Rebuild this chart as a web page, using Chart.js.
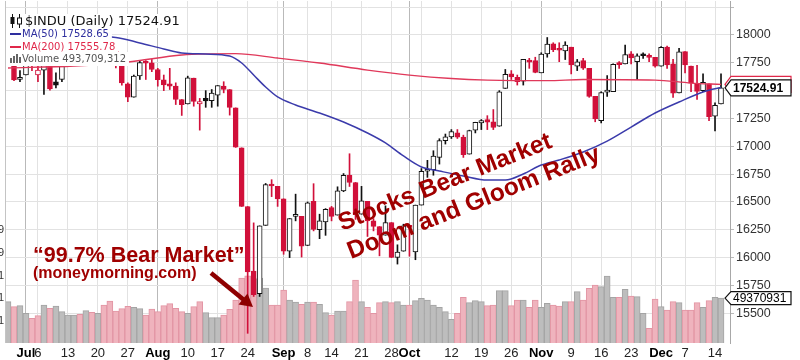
<!DOCTYPE html>
<html><head><meta charset="utf-8">
<script src="https://cdn.jsdelivr.net/npm/chart.js@4/dist/chart.umd.min.js"></script>
<style>html,body{margin:0;padding:0;background:#fff;}canvas{display:block;}</style>
</head><body>
<canvas id="c" width="800" height="360"></canvas>
<script>
// ---------- DATA ----------
const dates = [
'Jun 26','Jun 29','Jun 30','Jul 1','Jul 2','Jul 6','Jul 7','Jul 8','Jul 9','Jul 10',
'Jul 13','Jul 14','Jul 15','Jul 16','Jul 17','Jul 20','Jul 21','Jul 22','Jul 23','Jul 24',
'Jul 27','Jul 28','Jul 29','Jul 30','Jul 31','Aug 3','Aug 4','Aug 5','Aug 6','Aug 7',
'Aug 10','Aug 11','Aug 12','Aug 13','Aug 14','Aug 17','Aug 18','Aug 19','Aug 20','Aug 21',
'Aug 24','Aug 25','Aug 26','Aug 27','Aug 28','Aug 31','Sep 1','Sep 2','Sep 3','Sep 4',
'Sep 8','Sep 9','Sep 10','Sep 11','Sep 14','Sep 15','Sep 16','Sep 17','Sep 18','Sep 21',
'Sep 22','Sep 23','Sep 24','Sep 25','Sep 28','Sep 29','Sep 30','Oct 1','Oct 2','Oct 5',
'Oct 6','Oct 7','Oct 8','Oct 9','Oct 12','Oct 13','Oct 14','Oct 15','Oct 16','Oct 19',
'Oct 20','Oct 21','Oct 22','Oct 23','Oct 26','Oct 27','Oct 28','Oct 29','Oct 30','Nov 2',
'Nov 3','Nov 4','Nov 5','Nov 6','Nov 9','Nov 10','Nov 11','Nov 12','Nov 13','Nov 16',
'Nov 17','Nov 18','Nov 19','Nov 20','Nov 23','Nov 24','Nov 25','Nov 27','Nov 30','Dec 1',
'Dec 2','Dec 3','Dec 4','Dec 7','Dec 8','Dec 9','Dec 10','Dec 11','Dec 14','Dec 15'];

const priorClose = 17890;
const opens = [
17890,17810,17600,17640,17762,17640,17684,17765,17580,17600,
17790,17980,18054,18070,18120,18090,18100,17915,17852,17732,
17560,17441,17632,17752,17750,17690,17598,17560,17540,17420,
17380,17612,17380,17430,17410,17460,17540,17510,17345,16986,
16459,15880,15676,16290,16653,16640,16528,16058,16370,16370,
16109,16505,16252,16320,16450,16382,16600,16738,16675,16390,
16505,16330,16279,16201,16315,16002,16057,16285,16050,16472,
16776,16790,16900,17050,17085,17120,17082,16930,17145,17210,
17240,17220,17180,17520,17650,17620,17585,17775,17770,17660,
17830,17920,17880,17856,17890,17720,17770,17700,17448,17230,
17486,17490,17740,17740,17830,17760,17820,17810,17800,17720,
17890,17740,17480,17850,17720,17560,17500,17560,17270,17380];
const highs = [
17990,17830,17680,17840,17795,17760,17790,17765,17660,17800,
17990,18075,18100,18137,18120,18138,18100,17935,17890,17760,
17570,17640,17770,17770,17780,17700,17640,17700,17570,17420,
17630,17612,17430,17500,17510,17545,17580,17510,17345,16986,
16459,16312,16285,16666,16700,16640,16528,16351,16570,16370,
16500,16664,16390,16440,16460,16636,16755,16933,16675,16640,
16505,16350,16279,16465,16315,16115,16300,16286,16472,16800,
16874,16960,17068,17110,17150,17150,17100,17145,17216,17240,
17275,17330,17500,17690,17680,17640,17780,17790,17800,17840,
17977,17930,17930,17939,17890,17780,17790,17700,17448,17490,
17634,17740,17760,17910,17850,17830,17840,17830,17800,17895,
17900,17780,17880,17850,17720,17727,17650,17560,17390,17650];
const lows = [
17872,17590,17580,17640,17680,17580,17465,17505,17525,17580,
17790,17960,18000,18070,18030,18060,17880,17820,17705,17550,
17400,17441,17600,17600,17670,17540,17500,17510,17375,17277,
17380,17360,17145,17350,17350,17360,17480,17280,16990,16459,
15320,15651,15651,16290,16548,16460,16030,16000,16330,16005,
16109,16240,16170,16200,16330,16382,16592,16639,16343,16390,
16190,16240,16016,16201,16000,15942,16057,16013,15981,16472,
16721,16740,16840,17020,17070,17070,16900,16930,17120,17150,
17150,17150,17180,17520,17600,17550,17550,17700,17660,17660,
17800,17850,17760,17779,17650,17680,17690,17440,17220,17210,
17447,17490,17700,17740,17740,17600,17790,17760,17710,17720,
17700,17440,17480,17660,17490,17420,17490,17230,17138,17380];
const closes = [
17947,17596,17620,17758,17730,17684,17777,17515,17549,17760,
17978,18054,18050,18120,18086,18100,17919,17851,17732,17569,
17441,17630,17751,17746,17690,17598,17551,17540,17420,17373,
17615,17403,17402,17408,17477,17545,17511,17349,16991,16460,
15871,15666,16285,16655,16643,16528,16058,16351,16375,16102,
16493,16254,16330,16433,16371,16600,16740,16675,16385,16510,
16330,16280,16201,16315,16002,16049,16285,16272,16472,16776,
16790,16912,17051,17084,17132,17082,16925,17142,17216,17231,
17217,17169,17489,17647,17623,17581,17780,17756,17664,17829,
17918,17868,17863,17910,17730,17758,17702,17448,17245,17483,
17490,17737,17733,17824,17793,17812,17813,17798,17720,17888,
17730,17478,17848,17731,17568,17492,17575,17265,17368,17524.91];
// volume, millions of shares
const volumes = [
455,400,411,326,271,301,418,381,407,345,
308,308,315,356,337,326,418,462,352,378,
403,392,378,308,374,345,411,433,381,345,
326,400,455,334,279,279,308,370,473,715,
740,700,715,605,418,418,583,473,451,425,
451,451,425,334,308,352,352,455,693,455,
392,326,444,455,444,455,418,418,466,491,
473,418,392,345,260,326,502,444,466,455,
411,418,576,576,411,473,473,392,473,392,
436,418,407,455,455,565,473,601,638,620,
737,502,502,590,517,510,326,161,484,400,
363,455,444,363,363,444,392,466,502,493.709312];

const ma50Dates  = ['Jun 26','Jul 13','Jul 23','Jul 29','Aug 4','Aug 7','Aug 13','Aug 19','Aug 21','Aug 25','Aug 27','Aug 31','Sep 3','Sep 10','Sep 16','Sep 22','Sep 25','Sep 30','Oct 5','Oct 8','Oct 14','Oct 20','Oct 23','Oct 28','Nov 2','Nov 5','Nov 11','Nov 17','Nov 23','Nov 30','Dec 4','Dec 10','Dec 15'];
const ma50Values = [17985,17990,17977,17928,17874,17838,17829,17811,17748,17640,17532,17443,17371,17299,17218,17119,17030,16913,16814,16778,16733,16697,16697,16751,16832,16877,16949,17047,17173,17299,17398,17488,17528.65];
const ma200Dates  = ['Jun 26','Jul 14','Jul 27','Aug 7','Aug 20','Aug 31','Sep 10','Sep 22','Oct 1','Oct 12','Oct 20','Nov 3','Nov 11','Nov 30','Dec 8','Dec 15'];
const ma200Values = [17703,17721,17757,17820,17833,17793,17748,17685,17640,17609,17595,17589,17600,17595,17568,17555.78];

const priceTicks = [15500,15750,16000,16250,16500,16750,17000,17250,17500,17750,18000,18250];
const xTickLabels = {'Jul 1':'Jul','Jul 6':'6','Jul 13':'13','Jul 20':'20','Jul 27':'27','Aug 3':'Aug','Aug 10':'10','Aug 17':'17','Aug 24':'24','Sep 1':'Sep','Sep 8':'8','Sep 14':'14','Sep 21':'21','Sep 28':'28','Oct 1':'Oct','Oct 12':'12','Oct 19':'19','Oct 26':'26','Nov 2':'Nov','Nov 9':'9','Nov 16':'16','Nov 23':'23','Dec 1':'Dec','Dec 7':'7','Dec 14':'14'};
const monthStarts = ['Jul 1','Aug 3','Sep 1','Oct 1','Nov 2','Dec 1'];
const gridDates = ['Jul 1','Jul 6','Jul 13','Jul 20','Jul 27','Aug 3','Aug 10','Aug 17','Aug 24','Aug 31','Sep 1','Sep 8','Sep 14','Sep 21','Sep 28','Oct 1','Oct 5','Oct 12','Oct 19','Oct 26','Nov 2','Nov 9','Nov 16','Nov 23','Nov 30','Dec 1','Dec 7','Dec 14'];

// ---------- DERIVED ----------
const labels = dates.concat(['']);
const RED = '#d1103a', BLK = '#111111';
const prevC = closes.map((c,i)=> i ? closes[i-1] : priorClose);
const candleCol = closes.map((c,i)=> c >= prevC[i] ? BLK : RED);
const hollow = closes.map((c,i)=> c > opens[i]);
const lastClose = closes[closes.length-1];
const lastVol = volumes[volumes.length-1];

const overlay = {
  id:'overlay',
  afterDraw(chart){
    const ctx = chart.ctx, a = chart.chartArea;
    const yS = chart.scales.y, vS = chart.scales.yv;
    ctx.save();
    // plot left border
    ctx.strokeStyle = '#c4c4c4'; ctx.lineWidth = 1;
    ctx.beginPath(); ctx.moveTo(a.left+0.5, a.top); ctx.lineTo(a.left+0.5, a.bottom); ctx.stroke();

    // cut-off volume axis labels at left edge
    ctx.fillStyle = '#333'; ctx.font = '11px "Liberation Sans", Arial, sans-serif';
    ctx.textAlign = 'right'; ctx.textBaseline = 'middle';
    [['9',230],['9',253],['1',276],['1',298],['1',321]].forEach(([t,y])=>ctx.fillText(t,4,y));

    // legend
    const rows = [
      {y:21, font:'13px "DejaVu Sans", sans-serif', color:'#111', x:25, text:'$INDU (Daily) ' + lastClose.toFixed(2), icon:'candle'},
      {y:34, font:'10px "DejaVu Sans", sans-serif', color:'#2e2e9e', x:22, text:'MA(50) ' + ma50Values[ma50Values.length-1].toFixed(2), icon:'line'},
      {y:47, font:'10px "DejaVu Sans", sans-serif', color:'#e0284a', x:22, text:'MA(200) ' + ma200Values[ma200Values.length-1].toFixed(2), icon:'line'},
      {y:59, font:'10px "DejaVu Sans", sans-serif', color:'#555', x:22, text:'Volume ' + Math.round(lastVol*1e6).toLocaleString('en-US'), icon:'bars'}
    ];
    ctx.textAlign = 'left';
    rows.forEach(r=>{
      ctx.font = r.font;
      const w = ctx.measureText(r.text).width;
      ctx.fillStyle = '#fff';
      ctx.fillRect(a.left+1, r.y-7, r.x + w + 3 - a.left - 1, 14);
    });
    rows.forEach(r=>{
      ctx.font = r.font; ctx.fillStyle = r.color;
      ctx.fillText(r.text, r.x, r.y+0.5);
      if (r.icon === 'line') { ctx.strokeStyle = r.color; ctx.lineWidth = 2; ctx.beginPath(); ctx.moveTo(10, r.y); ctx.lineTo(21, r.y); ctx.stroke(); }
      if (r.icon === 'bars') { ctx.fillStyle = '#666'; [[10,5],[13,7],[16,9],[19,6]].forEach(([x,h])=>ctx.fillRect(x, r.y+4-h, 2, h)); }
      if (r.icon === 'candle') {
        ctx.strokeStyle = '#111'; ctx.lineWidth = 1; ctx.fillStyle='#111';
        ctx.beginPath(); ctx.moveTo(12.5,14); ctx.lineTo(12.5,28); ctx.moveTo(19.5,14); ctx.lineTo(19.5,28); ctx.stroke();
        ctx.fillRect(10.5,17,4,7);
        ctx.fillStyle='#fff'; ctx.fillRect(17.5,18,4,6); ctx.strokeRect(17.5,18,4,6);
      }
    });

    // annotations
    ctx.fillStyle = '#a00000'; ctx.textBaseline = 'alphabetic'; ctx.textAlign = 'left';
    ctx.font = 'bold 24.5px "Liberation Sans", Arial, sans-serif';
    ctx.save(); ctx.translate(342,231); ctx.rotate(-21.7*Math.PI/180); ctx.fillText('Stocks Bear Market',0,0); ctx.restore();
    ctx.save(); ctx.translate(351,259); ctx.rotate(-21.6*Math.PI/180); ctx.fillText('Doom and Gloom Rally',0,0); ctx.restore();
    ctx.font = 'bold 21.5px "Liberation Sans", Arial, sans-serif';
    ctx.fillText('\u201C99.7% Bear Market\u201D', 33, 262);
    ctx.font = 'bold 16px "Liberation Sans", Arial, sans-serif';
    ctx.fillText('(moneymorning.com)', 33, 278);
    // arrow
    ctx.strokeStyle = '#8e0000'; ctx.fillStyle = '#8e0000'; ctx.lineWidth = 4.5;
    ctx.beginPath(); ctx.moveTo(211,273); ctx.lineTo(244,300); ctx.stroke();
    ctx.beginPath(); ctx.moveTo(253,307); ctx.lineTo(238.5,304.5); ctx.lineTo(247.5,293.5); ctx.closePath(); ctx.fill();

    // right-side value tags
    function tag(cy, halfH, stroke, text, font){
      ctx.beginPath();
      ctx.moveTo(725, cy); ctx.lineTo(731, cy-halfH); ctx.lineTo(791, cy-halfH);
      ctx.lineTo(791, cy+halfH); ctx.lineTo(731, cy+halfH); ctx.closePath();
      ctx.fillStyle = '#fff'; ctx.fill();
      ctx.strokeStyle = stroke; ctx.lineWidth = 1.2; ctx.stroke();
      if (text) { ctx.fillStyle = '#000'; ctx.font = font; ctx.textBaseline = 'middle'; ctx.textAlign='left'; ctx.fillText(text, 733, cy+0.5); }
    }
    tag(yS.getPixelForValue(ma200Values[ma200Values.length-1]), 8, '#e0284a', null);
    tag(yS.getPixelForValue(lastClose), 8, '#111', lastClose.toFixed(2), 'bold 12px "Liberation Sans", Arial, sans-serif');
    tag(vS.getPixelForValue(lastVol), 6.5, '#111', String(Math.round(lastVol*1e6)).slice(0,8), '12px "Liberation Sans", Arial, sans-serif');
    ctx.restore();
  }
};

new Chart(document.getElementById('c'), {
  data: {
    labels: labels,
    datasets: [
      { type:'line', label:'MA(50)', data: ma50Dates.map((d,i)=>({x:d, y:ma50Values[i]})),
        borderColor:'#3b3bab', borderWidth:1.5, pointRadius:0, cubicInterpolationMode:'monotone', order:1 },
      { type:'line', label:'MA(200)', data: ma200Dates.map((d,i)=>({x:d, y:ma200Values[i]})),
        borderColor:'#e0385a', borderWidth:1.3, pointRadius:0, cubicInterpolationMode:'monotone', order:1 },
      { type:'bar', label:'body', data: dates.map((d,i)=>[Math.min(opens[i],closes[i]), Math.max(opens[i],closes[i])]),
        backgroundColor: closes.map((c,i)=> hollow[i] ? '#ffffff' : candleCol[i]),
        borderColor: candleCol, borderWidth:1, borderSkipped:false, barThickness:5, minBarLength:2,
        grouped:false, order:2 },
      { type:'bar', label:'wick', data: dates.map((d,i)=>[lows[i], highs[i]]),
        backgroundColor: candleCol, borderWidth:0, barThickness:1, grouped:false, order:3 },
      { type:'bar', label:'Volume', yAxisID:'yv', data: volumes,
        backgroundColor: closes.map((c,i)=> c >= prevC[i] ? '#bdbdbd' : '#efb3bd'),
        borderColor: closes.map((c,i)=> c >= prevC[i] ? '#a4a4a4' : '#e295a4'),
        borderWidth:1, barPercentage:1, categoryPercentage:1, grouped:false, order:5 }
    ]
  },
  options: {
    responsive:false, devicePixelRatio:1, animation:false, events:[],
    layout:{ padding:{ left:5, top:1, right:0, bottom:0 } },
    plugins:{ legend:{display:false}, tooltip:{enabled:false} },
    scales:{
      x:{ type:'category', offset:true,
        border:{display:false},
        grid:{ offset:false, drawTicks:false, lineWidth:1,
          color:(c)=>{ const l = labels[c.index]; if (!gridDates.includes(l)) return 'rgba(0,0,0,0)'; return monthStarts.includes(l) ? '#b9b9b9' : '#e2e2e2'; } },
        ticks:{ autoSkip:false, maxRotation:0, padding:3,
          callback:(v,i)=> xTickLabels[labels[i]] || '',
          color:(c)=> monthStarts.includes(labels[c.index]) ? '#000' : '#222',
          font:(c)=> monthStarts.includes(labels[c.index]) ? {family:'"Liberation Sans", Arial, sans-serif', size:13, weight:'bold'} : {family:'"Liberation Sans", Arial, sans-serif', size:13} },
        afterFit:(s)=>{ s.height = 17; s.paddingLeft = 0; s.paddingRight = 0; } },
      y:{ type:'linear', position:'right', min:15233, max:18305,
        afterBuildTicks:(s)=>{ s.ticks = priceTicks.map(v=>({value:v})); },
        border:{display:true, color:'#a8a8a8'},
        grid:{ color:'#e2e2e2', tickLength:4, tickColor:'#bbb' },
        ticks:{ padding:2, color:'#333', font:{family:'"Liberation Sans", Arial, sans-serif', size:12.5},
          callback:(v)=> v === 18250 ? '' : String(v) },
        afterFit:(s)=>{ s.width = 70; s.paddingTop = 0; s.paddingBottom = 0; } },
      yv:{ type:'linear', position:'left', display:false, min:0, max:3762 }
    }
  },
  plugins:[overlay]
});
</script>
</body></html>
